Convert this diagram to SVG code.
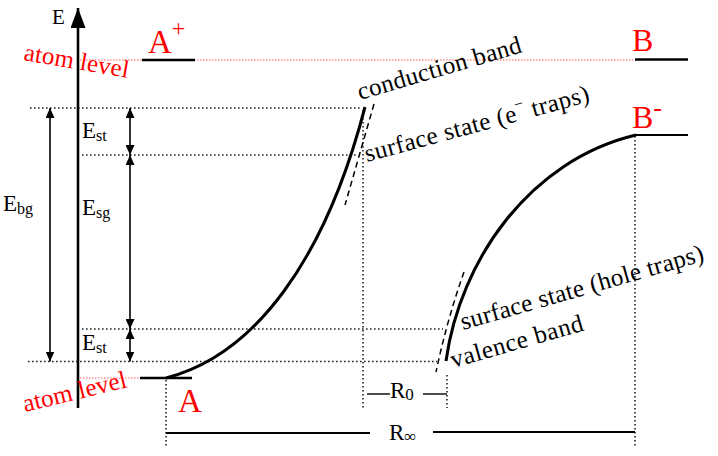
<svg xmlns="http://www.w3.org/2000/svg" width="718" height="456" viewBox="0 0 718 456">
<style>
text{font-family:'Liberation Serif','Times New Roman',serif;fill:#000}
.red{fill:#ff0000}
.lbl{font-size:25px}
.e{font-size:23px}
.sub{font-size:16px}
.dot{fill:none;stroke:#222;stroke-width:1.6;stroke-dasharray:1.6 2.4}
.rdot{fill:none;stroke:#ff5a5a;stroke-width:1.2;stroke-dasharray:1.5 1.5}
.lvl{fill:none;stroke:#000;stroke-width:2.6}
.curve{fill:none;stroke:#000;stroke-width:3}
.dash{fill:none;stroke:#000;stroke-width:1.5;stroke-dasharray:6 4}
.dim{fill:none;stroke:#000;stroke-width:1.6}
.thin{fill:none;stroke:#000;stroke-width:1.4}
</style>
<defs>
<marker id="ah" markerUnits="userSpaceOnUse" markerWidth="10" markerHeight="9" refX="10" refY="4.5" orient="auto-start-reverse">
<path d="M0,0 L10,4.5 L0,9 z" fill="#000"/>
</marker>
<marker id="axh" markerUnits="userSpaceOnUse" markerWidth="20" markerHeight="15" refX="20" refY="7.5" orient="auto">
<path d="M0,0 L20,7.5 L0,15 z" fill="#000"/>
</marker>
</defs>

<g id="guides">
<line class="rdot" x1="80" y1="60" x2="636" y2="60"/>
<line class="rdot" x1="80" y1="378" x2="140" y2="378"/>
<line class="dot" x1="30" y1="108" x2="362" y2="108"/>
<line class="dot" x1="82" y1="155" x2="356" y2="155"/>
<line class="dot" x1="82" y1="329" x2="443" y2="329"/>
<line class="dot" x1="28" y1="361.5" x2="437" y2="361.5"/>
<line class="dot" x1="166" y1="380" x2="166" y2="447"/>
<line class="dot" x1="363" y1="110" x2="363" y2="410"/>
<line class="dot" x1="447" y1="375" x2="447" y2="408"/>
<line class="dot" x1="635" y1="136" x2="635" y2="447"/>
</g>

<g id="axis">
<line x1="78" y1="408" x2="78" y2="8" stroke="#000" stroke-width="2.6" marker-end="url(#axh)"/>
<text x="52" y="24" style="font-size:21px">E</text>
</g>

<g id="connectors">
<line class="dim" x1="50" y1="108" x2="50" y2="361.5" marker-start="url(#ah)" marker-end="url(#ah)"/>
<line class="dim" x1="130" y1="108" x2="130" y2="155" marker-start="url(#ah)" marker-end="url(#ah)"/>
<line class="dim" x1="130" y1="155" x2="130" y2="329" marker-start="url(#ah)" marker-end="url(#ah)"/>
<line class="dim" x1="130" y1="329" x2="130" y2="361.5" marker-start="url(#ah)" marker-end="url(#ah)"/>
<line class="thin" x1="367" y1="394" x2="390" y2="394"/>
<line class="thin" x1="423" y1="394" x2="447" y2="394"/>
<line class="lvl" style="stroke-width:2" x1="166" y1="433" x2="370" y2="433"/>
<line class="lvl" style="stroke-width:2" x1="433" y1="432" x2="635" y2="432"/>
</g>

<g id="energy-labels">
<text class="e" x="3" y="211">E<tspan class="sub" dy="3">bg</tspan></text>
<text class="e" x="82" y="138">E<tspan class="sub" dy="3">st</tspan></text>
<text class="e" x="82" y="215">E<tspan class="sub" dy="3">sg</tspan></text>
<text class="e" x="82" y="350">E<tspan class="sub" dy="3">st</tspan></text>
<text class="e" x="390" y="398">R<tspan class="sub" style="font-size:17px" dy="2">0</tspan></text>
<text class="e" x="389" y="440">R<tspan class="sub" style="font-size:17px" dy="2">∞</tspan></text>
</g>

<g id="atom-A">
<line class="lvl" x1="140" y1="378" x2="192" y2="378"/>
<text class="red" x="178" y="412" style="font-size:33px">A</text>
<text class="red lbl" transform="translate(25,412) rotate(-13.6)" textLength="106" lengthAdjust="spacing">atom level</text>
</g>

<g id="atom-A-plus">
<line class="lvl" x1="142" y1="60" x2="195" y2="60"/>
<text class="red" x="148" y="53" style="font-size:33px">A<tspan style="font-size:24px" dy="-17">+</tspan></text>
<text class="red lbl" transform="translate(23,60) rotate(9.7)" textLength="106" lengthAdjust="spacing">atom level</text>
</g>

<g id="atom-B">
<line class="lvl" x1="635" y1="59.5" x2="688" y2="59.5"/>
<text class="red" x="632" y="51" style="font-size:32px">B</text>
</g>

<g id="atom-B-minus">
<line class="lvl" style="stroke-width:1.8" x1="636" y1="135" x2="688" y2="135"/>
<text class="red" x="632" y="128" style="font-size:32px">B<tspan style="font-size:26px" dy="-12">-</tspan></text>
</g>

<g id="conduction-band">
<path class="curve" d="M166,378 C255,355 325,260 365,107"/>
<line class="dash" x1="374" y1="104" x2="345" y2="205"/>
<text class="lbl" transform="translate(360,100) rotate(-16.4)" textLength="170" lengthAdjust="spacing">conduction band</text>
<text class="lbl" transform="translate(367,162) rotate(-15.2)" textLength="232" lengthAdjust="spacing">surface state (e<tspan style="font-size:16px" dy="-11">−</tspan><tspan dy="11"> traps)</tspan></text>
</g>

<g id="valence-band">
<path class="curve" d="M446,361 C460,260 530,160 636,135"/>
<path class="dash" d="M464,272 Q447,320 436,372"/>
<text class="lbl" transform="translate(463,330) rotate(-16)" textLength="252" lengthAdjust="spacing">surface state (hole traps)</text>
<text class="lbl" transform="translate(453,368) rotate(-16)" textLength="137" lengthAdjust="spacing">valence band</text>
</g>
</svg>
